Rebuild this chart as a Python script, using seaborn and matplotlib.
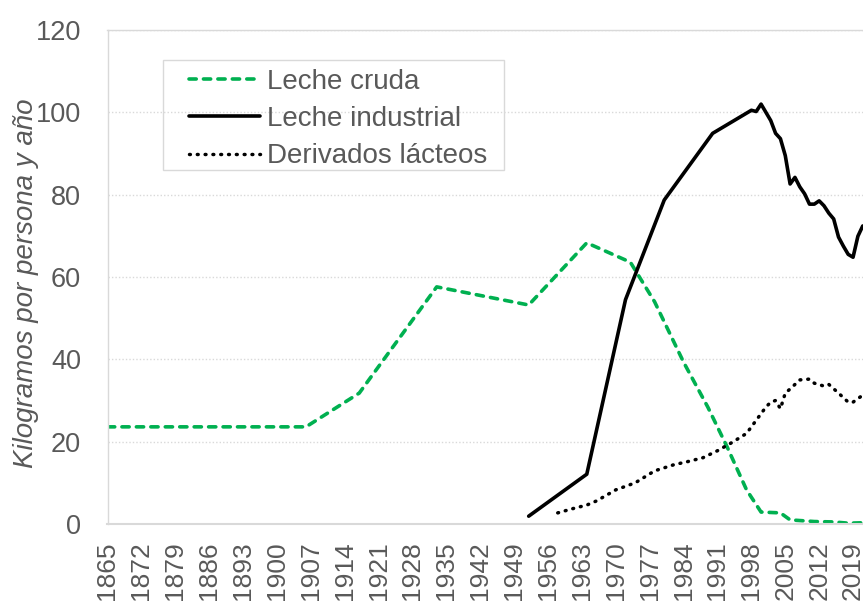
#!/usr/bin/env python3
"""Consumo de leche y derivados por persona y año."""

import matplotlib.pyplot as plt
import pandas as pd
import seaborn as sns
from matplotlib.patches import Rectangle

# Leche cruda
CRUDA_YEARS = [1865, 1906, 1917, 1933, 1952, 1964, 1973, 1978, 1984, 1989,
               1993, 1997, 2000, 2004, 2006, 2011, 2015, 2018, 2021]
CRUDA = [23.6, 23.6, 31.8, 57.6, 53.2, 68.3, 63.6, 54.0, 39.3, 28.4,
         18.7, 8.3, 2.9, 2.7, 1.0, 0.6, 0.5, 0.2, 0.3]

# Leche industrial
INDUSTRIAL_YEARS = [1952, 1964, 1972, 1980, 1990, 1998, 1999, 2000, 2002,
                    2003, 2004, 2005, 2006, 2007, 2008, 2009, 2010, 2011,
                    2012, 2013, 2014, 2015, 2016, 2017, 2018, 2019, 2020, 2021]
INDUSTRIAL = [1.9, 12.1, 54.5, 78.7, 94.9, 100.5, 100.2, 102.0, 98.0,
              94.9, 93.6, 89.5, 82.6, 84.2, 81.9, 80.2, 77.7, 77.7,
              78.5, 77.3, 75.5, 74.1, 69.7, 67.5, 65.5, 64.8, 69.9, 72.4]

# Derivados lácteos
DERIVADOS_YEARS = [1958, 1961, 1964, 1966, 1970, 1974, 1978, 1982, 1985,
                   1988, 1991, 1994, 1997, 1999, 2001, 2002, 2003, 2004,
                   2005, 2006, 2008, 2010, 2011, 2013, 2014, 2016, 2018,
                   2019, 2021]
DERIVADOS = [2.7, 3.7, 4.6, 5.6, 8.3, 10.0, 12.9, 14.4, 15.2,
             16.1, 17.8, 19.8, 22.0, 25.2, 28.4, 29.6, 30.0, 28.0,
             31.8, 32.8, 35.0, 35.2, 34.2, 33.5, 33.9, 31.8, 29.6,
             29.6, 31.3]

LABELS = ["Leche cruda", "Leche industrial", "Derivados lácteos"]
X_TICKS = list(range(1865, 2020, 7))
Y_TICKS = [0, 20, 40, 60, 80, 100, 120]

GREEN = "#00B050"
TEXT = "#595959"
LIGHT = "#D9D9D9"

W, H = 863, 601


def setup_style():
    sns.set_theme(style="white")
    plt.rcParams.update({
        "font.family": ["Liberation Sans", "DejaVu Sans"],
        "text.color": TEXT,
        "axes.labelcolor": TEXT,
        "xtick.color": TEXT,
        "ytick.color": TEXT,
    })


def main():
    setup_style()
    fig = plt.figure(figsize=(W / 100, H / 100), dpi=100)
    left, bottom, top = 107.5, 524, 30
    ax = fig.add_axes([left / W, 1 - bottom / H, (W - left) / W, (bottom - top) / H])

    cruda = pd.DataFrame({"year": CRUDA_YEARS, "kg": CRUDA})
    industrial = pd.DataFrame({"year": INDUSTRIAL_YEARS, "kg": INDUSTRIAL})
    derivados = pd.DataFrame({"year": DERIVADOS_YEARS, "kg": DERIVADOS})

    sns.lineplot(data=cruda, x="year", y="kg", ax=ax, color=GREEN, lw=2.6,
                 linestyle=(0, (2.0, 2.0)), dash_capstyle="round",
                 label=LABELS[0])
    sns.lineplot(data=industrial, x="year", y="kg", ax=ax, color="black",
                 lw=2.6, label=LABELS[1])
    sns.lineplot(data=derivados, x="year", y="kg", ax=ax, color="black",
                 lw=2.5, linestyle=(0, (0.25, 2.0)), dash_capstyle="round",
                 label=LABELS[2])

    ax.set_xlim(1865, 1865 + (W - 108) / 4.838)
    ax.set_ylim(0, 120)
    ax.set_xticks(X_TICKS)
    ax.set_xticklabels([str(y) for y in X_TICKS], rotation=90, fontsize=19)
    ax.set_yticks(Y_TICKS)
    ax.set_yticklabels([str(y) for y in Y_TICKS], fontsize=19.5)
    ax.tick_params(axis="x", length=0, pad=12.5)
    ax.tick_params(axis="y", length=0, pad=19)
    ax.set_xlabel("")
    ax.set_ylabel("Kilogramos por persona y año", fontsize=20, style="italic")
    ax.yaxis.set_label_coords((39 - left) / (W - left), 0.487)

    ax.yaxis.grid(True, linestyle=(0, (1, 1.5)), color=LIGHT, lw=1)
    ax.xaxis.grid(False)
    ax.set_axisbelow(True)
    for side in ["left", "top"]:
        ax.spines[side].set_color(LIGHT)
        ax.spines[side].set_linewidth(1.0)
    ax.spines["bottom"].set_color(LIGHT)
    ax.spines["bottom"].set_linewidth(1.5)
    ax.spines["right"].set_visible(False)

    leg = ax.legend(loc="upper left", bbox_to_anchor=(189 / W, 1 - 69 / H),
                    bbox_transform=fig.transFigure, frameon=False,
                    fontsize=20, handlelength=2.55, handletextpad=0.25,
                    labelspacing=0.4, borderpad=0, borderaxespad=0)
    for t in leg.get_texts():
        t.set_color(TEXT)
    fig.patches.append(Rectangle((163 / W, 1 - 170 / H), (504 - 163) / W,
                                 110 / H, transform=fig.transFigure,
                                 fill=False, edgecolor=LIGHT, lw=1.0))

    fig.savefig("out.png", dpi=100)
    plt.close(fig)


if __name__ == "__main__":
    main()
